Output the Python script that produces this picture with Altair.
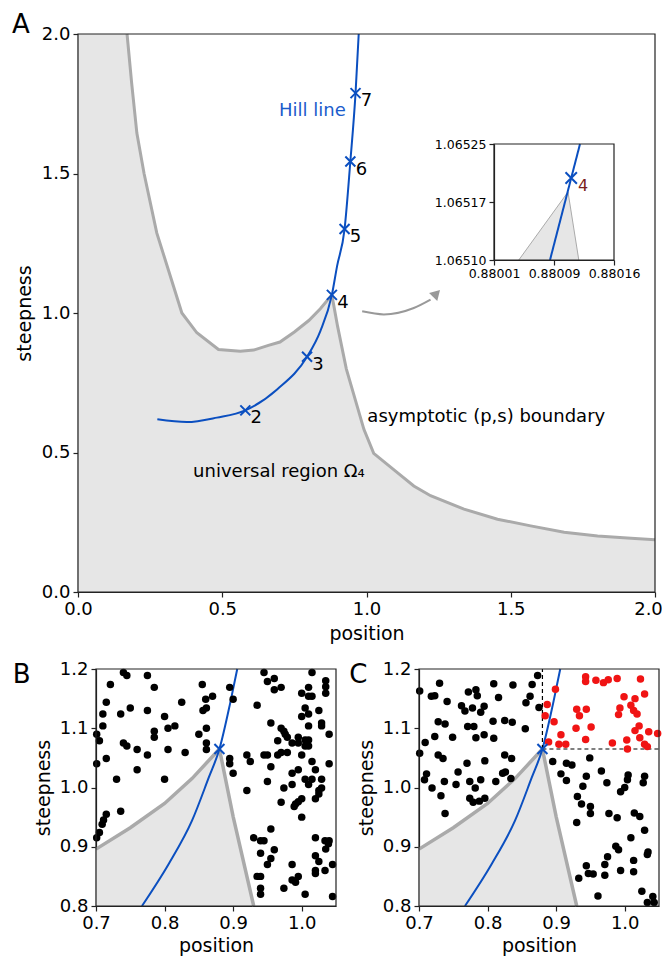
import altair as alt
import pandas as pd

# ---------------- data ----------------
# Panel A (position, steepness)
A_XDOM = [0.0, 2.0]
A_YDOM = [0.0, 2.0]
A_TICKS = [0.0, 0.5, 1.0, 1.5, 2.0]
A_BOUND_X = [0.170, 0.186, 0.204, 0.229, 0.273, 0.331, 0.360, 0.412, 0.487, 0.5625,
             0.609, 0.660, 0.700, 0.750, 0.800, 0.840, 0.880, 0.900, 0.930, 0.991,
             1.025, 1.107, 1.164, 1.222, 1.338, 1.454, 1.569, 1.685, 1.801, 1.917, 2.000]
A_BOUND_Y = [2.000, 1.824, 1.645, 1.500, 1.287, 1.096, 1.000, 0.929, 0.869, 0.863,
             0.867, 0.884, 0.896, 0.932, 0.973, 1.015, 1.065, 0.951, 0.800, 0.583,
             0.497, 0.428, 0.380, 0.345, 0.297, 0.261, 0.237, 0.214, 0.201, 0.193, 0.187]
A_HILL_X = [0.275, 0.377, 0.4815, 0.580, 0.690, 0.794, 0.840, 0.880, 0.898, 0.924, 0.944, 0.962, 0.973]
A_HILL_Y = [0.619, 0.609, 0.625, 0.651, 0.726, 0.843, 0.935, 1.065, 1.168, 1.301, 1.543, 1.788, 2.000]
HILL_N = ["2", "3", "4", "5", "6", "7"]
HILL_PX = [0.580, 0.794, 0.880, 0.924, 0.944, 0.962]
HILL_PY = [0.651, 0.843, 1.065, 1.301, 1.543, 1.788]
ARROW_X = [0.985, 1.060, 1.164, 1.222]
ARROW_Y = [1.006, 0.995, 1.018, 1.048]
ARROW_HEAD = [1.243, 1.070]
A_TEXT = ["Hill line", "universal region Ω₄", "asymptotic (p,s) boundary"]
A_TEXT_X = [0.8125, 0.399, 1.003]
A_TEXT_Y = [1.724, 0.429, 0.626]

# Inset of panel A
IN_XTICKS = [0.880012, 0.880087, 0.880162]
IN_YTICKS = [1.065098, 1.065173, 1.065248]
IN_TRI_X = [0.880043, 0.8801045, 0.880118]
IN_TRI_Y = [1.065098, 1.065186, 1.065098]
IN_HILL_X = [0.880082, 0.8801195]
IN_HILL_Y = [1.065098, 1.065248]
IN_PT = [0.8801085, 1.065204]

# Panels B and C
BC_XDOM = [0.7, 1.05]
BC_YDOM = [0.8, 1.2]
BC_XTICKS = [0.7, 0.8, 0.9, 1.0]
BC_YTICKS = [0.8, 0.9, 1.0, 1.1, 1.2]
BC_BOUND_X = [0.700, 0.750, 0.800, 0.840, 0.880, 0.900, 0.930]
BC_BOUND_Y = [0.896, 0.932, 0.973, 1.015, 1.065, 0.951, 0.800]
BC_HILL_X = [0.767, 0.806, 0.840, 0.8645, 0.880, 0.8956, 0.906]
BC_HILL_Y = [0.800, 0.871, 0.944, 1.017, 1.065, 1.142, 1.200]
BC_PT = [0.880, 1.065]
C_THRESH = [0.880, 1.065]

B_X = [0.740, 0.745, 0.775, 0.721, 0.785, 0.855, 0.870, 0.860, 0.715, 0.825,
       0.750, 0.775, 0.856, 0.861, 0.710, 0.736, 0.800, 0.710, 0.815, 0.805,
       0.785, 0.785, 0.861, 0.850, 0.701, 0.705, 0.740, 0.745, 0.760, 0.805,
       0.775, 0.830, 0.861, 0.861, 0.715, 0.701, 0.760, 0.730, 0.800, 0.736,
       0.715, 0.711, 0.709, 0.705, 0.701,
       0.945, 1.015, 0.950, 0.960, 1.035, 0.895, 0.960, 0.970, 1.010, 1.035,
       1.000, 1.010, 1.015, 1.035, 0.900, 0.935, 1.005, 1.025, 1.010, 1.000,
       0.955, 1.029, 1.029, 1.010, 0.970, 0.974, 0.976, 1.040, 0.979, 0.965,
       0.986, 0.995, 0.995, 1.005, 1.010, 1.005, 1.010, 0.920, 0.945, 0.950,
       0.965, 0.970, 0.979, 1.000, 0.895, 0.925, 1.015, 0.895, 0.955, 1.040,
       0.995, 1.020, 0.986, 0.900, 1.005, 1.015, 1.029, 0.950, 0.986, 1.010,
       0.974, 1.029, 1.025, 0.920, 1.025, 1.000, 0.995, 0.970, 0.991, 0.989,
       1.020, 1.000, 0.955, 0.930, 0.940, 0.945, 1.020, 1.034, 1.040, 1.039,
       1.035, 0.960, 0.940, 1.020, 0.955, 1.025, 0.950, 0.986, 1.045, 1.020,
       1.020, 1.034, 0.935, 0.940, 0.995, 0.986, 0.991, 0.940, 0.974, 0.940,
       1.005, 1.045]
B_Y = [1.194, 1.189, 1.189, 1.174, 1.169, 1.174, 1.154, 1.149, 1.144, 1.144,
       1.134, 1.130, 1.130, 1.134, 1.124, 1.124, 1.120, 1.104, 1.104, 1.100,
       1.095, 1.085, 1.100, 1.090, 1.090, 1.079, 1.075, 1.070, 1.064, 1.064,
       1.055, 1.059, 1.075, 1.064, 1.049, 1.040, 1.030, 1.014, 1.014, 0.960,
       0.955, 0.945, 0.938, 0.924, 0.915,
       1.194, 1.194, 1.179, 1.184, 1.180, 1.169, 1.165, 1.169, 1.169, 1.170,
       1.159, 1.154, 1.154, 1.159, 1.149, 1.139, 1.134, 1.130, 1.124, 1.120,
       1.109, 1.109, 1.104, 1.104, 1.100, 1.095, 1.090, 1.090, 1.085, 1.079,
       1.075, 1.085, 1.075, 1.080, 1.080, 1.070, 1.070, 1.055, 1.055, 1.055,
       1.055, 1.059, 1.059, 1.055, 1.049, 1.044, 1.044, 1.040, 1.035, 1.040,
       1.030, 1.030, 1.024, 1.024, 1.014, 1.014, 1.014, 1.010, 1.005, 1.005,
       0.999, 0.999, 0.995, 0.995, 0.989, 0.981, 0.976, 0.975, 0.972, 0.968,
       0.981, 0.950, 0.930, 0.915, 0.910, 0.910, 0.915, 0.910, 0.910, 0.905,
       0.896, 0.895, 0.889, 0.885, 0.880, 0.875, 0.870, 0.870, 0.870, 0.860,
       0.855, 0.860, 0.850, 0.850, 0.850, 0.844, 0.840, 0.830, 0.830, 0.820,
       0.820, 0.816]

C_BLACK_X = [0.701, 0.730, 0.718, 0.723, 0.741, 0.772, 0.783, 0.785, 0.809, 0.837,
             0.816, 0.865, 0.862, 0.873, 0.856, 0.875, 0.762, 0.767, 0.778, 0.790,
             0.795, 0.728, 0.738, 0.771, 0.780, 0.808, 0.825, 0.836, 0.855, 0.723,
             0.749, 0.783, 0.795, 0.809, 0.709, 0.701, 0.728, 0.735, 0.825, 0.835,
             0.770, 0.796, 0.757, 0.711, 0.708, 0.737, 0.754, 0.774, 0.790, 0.812,
             0.822, 0.826, 0.834, 0.782, 0.719, 0.732, 0.774, 0.779, 0.788, 0.796,
             0.738,
             0.895, 0.915, 0.923, 0.949, 0.966, 0.907, 0.915, 0.944, 1.005, 1.029,
             1.004, 0.974, 1.027, 0.939, 1.000, 0.994, 0.931, 0.937, 0.950, 0.950,
             0.977, 0.989, 1.014, 1.022, 0.930, 1.029, 1.009, 0.987, 0.991, 1.034,
             1.033, 0.975, 0.944, 0.971, 1.013, 0.994, 1.013, 0.947, 0.954, 0.971,
             0.933, 1.025, 0.961, 1.041, 1.033, 1.043]
C_BLACK_Y = [1.163, 1.176, 1.154, 1.155, 1.145, 1.161, 1.165, 1.155, 1.175, 1.173,
             1.152, 1.174, 1.154, 1.189, 1.143, 1.135, 1.138, 1.129, 1.134, 1.127,
             1.137, 1.111, 1.107, 1.103, 1.103, 1.112, 1.113, 1.110, 1.099, 1.086,
             1.085, 1.084, 1.089, 1.083, 1.076, 1.058, 1.055, 1.049, 1.055, 1.049,
             1.041, 1.045, 1.026, 1.023, 1.013, 1.010, 1.005, 1.010, 1.013, 1.010,
             1.024, 1.026, 1.015, 0.999, 0.999, 0.986, 0.982, 0.975, 0.977, 0.982,
             0.956,
             1.044, 1.041, 1.038, 1.050, 1.028, 1.023, 1.012, 1.019, 1.021, 1.019,
             1.013, 1.008, 1.008, 1.002, 1.000, 0.993, 0.985, 0.972, 0.968, 0.956,
             0.956, 0.949, 0.957, 0.951, 0.941, 0.928, 0.915, 0.901, 0.895, 0.891,
             0.887, 0.883, 0.868, 0.870, 0.877, 0.860, 0.858, 0.855, 0.854, 0.852,
             0.847, 0.825, 0.817, 0.816, 0.806, 0.806]
C_RED_X = [0.943, 0.943, 0.958, 0.969, 0.976, 0.989, 1.023, 0.899, 0.999, 1.015,
           1.029, 0.887, 0.930, 0.944, 0.993, 1.009, 1.013, 1.018, 0.884, 0.934,
           0.991, 0.897, 0.951, 0.929, 1.021, 1.015, 1.035, 1.048, 0.907, 1.003,
           1.022, 0.943, 0.889, 0.904, 0.914, 0.982, 1.029, 1.033, 1.004]
C_RED_Y = [1.187, 1.179, 1.181, 1.177, 1.182, 1.184, 1.183, 1.166, 1.153, 1.150,
           1.158, 1.140, 1.132, 1.132, 1.134, 1.139, 1.130, 1.124, 1.121, 1.121,
           1.123, 1.111, 1.102, 1.100, 1.104, 1.096, 1.094, 1.091, 1.089, 1.080,
           1.084, 1.081, 1.077, 1.073, 1.073, 1.075, 1.073, 1.069, 1.065]

PANEL_LETTERS = ["A", "B", "C"]

# ---------------- styling / layout ----------------
FONT = "DejaVu Sans"
W, H = 654, 949
BLUE = "#0b4fc0"
BLUE_TXT = "#1a5ccc"
GLINE = "#aaaaaa"
GFILL = "#e6e6e6"
AXC = "#222222"
XSHAPE = "M -1 -1 L 1 1 M 1 -1 L -1 1"

RA_X, RA_Y = [70, 647], [584, 26]
RI_X, RI_Y = [486, 606], [252, 136]
RB_X, RB_Y = [88, 328], [898, 661]
RC_X, RC_Y = [411, 651], [898, 661]


def sc(dom, rng):
    return alt.Scale(domain=dom, range=rng, nice=False, zero=False)


def axis(orient, offset, values, fmt, title, lsize=18, tsize=19, tpad=5, lpad=3, **extra):
    return alt.Axis(orient=orient, offset=offset, values=values, format=fmt, title=title,
                    grid=False, labelFont=FONT, labelFontSize=lsize, labelColor="black",
                    titleFont=FONT, titleFontSize=tsize, titleFontWeight="normal",
                    titleColor="black", tickColor=AXC, tickSize=5, tickWidth=1.2,
                    domainColor=AXC, domainWidth=1.2, labelFlush=False,
                    labelOverlap=False, labelPadding=lpad, titlePadding=tpad, **extra)


def enc(chart, xs, ys, xax=None, yax=None, **kw):
    xa = {"axis": xax} if xax is not None else {"axis": None}
    ya = {"axis": yax} if yax is not None else {"axis": None}
    return chart.encode(x=alt.X("x:Q", scale=xs, **xa), y=alt.Y("y:Q", scale=ys, **ya), **kw)


def frame(df, xs, ys):
    return alt.Chart(df).mark_rect(fillOpacity=0, stroke=AXC, strokeWidth=1.2).encode(
        x=alt.X("x:Q", scale=xs, axis=None), x2="x2:Q",
        y=alt.Y("y:Q", scale=ys, axis=None), y2="y2:Q")


# ---------------- panel A ----------------
axs, ays = sc(A_XDOM, RA_X), sc(A_YDOM, RA_Y)
dfA_area = pd.DataFrame({"x": [A_XDOM[0]] + A_BOUND_X, "y": [A_YDOM[1]] + A_BOUND_Y, "b": A_YDOM[0]})
dfA_bound = pd.DataFrame({"x": A_BOUND_X, "y": A_BOUND_Y})
dfA_hill = pd.DataFrame({"x": A_HILL_X, "y": A_HILL_Y})
dfA_pts = pd.DataFrame({"x": HILL_PX, "y": HILL_PY, "n": HILL_N})
dfA_arrow = pd.DataFrame({"x": ARROW_X, "y": ARROW_Y})
dfA_head = pd.DataFrame({"x": [ARROW_HEAD[0]], "y": [ARROW_HEAD[1]]})
dfA_text = pd.DataFrame({"x": A_TEXT_X, "y": A_TEXT_Y, "t": A_TEXT})
dfA_frame = pd.DataFrame({"x": [A_XDOM[0]], "x2": [A_XDOM[1]], "y": [A_YDOM[0]], "y2": [A_YDOM[1]]})
dfA_letter = pd.DataFrame({"x": [-0.198], "y": [2.034], "t": [PANEL_LETTERS[0]]})

# keep the last x label ("2.0") inside the page edge
last_label_shift = {"condition": {"test": f"datum.value >= {A_XDOM[1]}", "value": -7}, "value": 0}

A_layers = [
    enc(alt.Chart(dfA_area).mark_area(color=GFILL), axs, ays,
        xax=axis("bottom", RA_Y[0] - H, A_TICKS, ".1f", "position", tpad=6,
                 labelOffset=last_label_shift),
        yax=axis("left", -RA_X[0], A_TICKS, ".1f", "steepness", tpad=7),
        y2="b:Q"),
    enc(alt.Chart(dfA_bound).mark_line(color=GLINE, strokeWidth=3), axs, ays),
    enc(alt.Chart(dfA_hill).mark_line(color=BLUE, strokeWidth=2, interpolate="monotone"), axs, ays),
    enc(alt.Chart(dfA_arrow).mark_line(color="#999999", strokeWidth=2, interpolate="monotone"), axs, ays),
    enc(alt.Chart(dfA_head).mark_point(shape="triangle-up", filled=True, size=130, angle=44,
                                       color="#999999", opacity=1), axs, ays),
    enc(alt.Chart(dfA_pts).mark_point(shape=XSHAPE, filled=False, size=100, strokeWidth=2,
                                      color=BLUE, opacity=1), axs, ays),
    enc(alt.Chart(dfA_pts).mark_text(font=FONT, fontSize=18, dx=11, dy=8, align="center",
                                     baseline="middle", color="black"), axs, ays, text="n:N"),
    enc(alt.Chart(dfA_text.iloc[[0]]).mark_text(font=FONT, fontSize=18, align="center",
                                                baseline="middle", color=BLUE_TXT), axs, ays, text="t:N"),
    enc(alt.Chart(dfA_text.iloc[[1, 2]]).mark_text(font=FONT, fontSize=18, align="left",
                                                   baseline="middle", color="black"), axs, ays, text="t:N"),
    enc(alt.Chart(dfA_letter).mark_text(font=FONT, fontSize=26, align="center",
                                        baseline="middle", color="black"), axs, ays, text="t:N"),
    frame(dfA_frame, axs, ays),
]

# ---------------- inset ----------------
ixs, iys = sc([IN_XTICKS[0], IN_XTICKS[-1]], RI_X), sc([IN_YTICKS[0], IN_YTICKS[-1]], RI_Y)
dfI_tri = pd.DataFrame({"x": IN_TRI_X, "y": IN_TRI_Y, "b": IN_YTICKS[0]})
dfI_hill = pd.DataFrame({"x": IN_HILL_X, "y": IN_HILL_Y})
dfI_pt = pd.DataFrame({"x": [IN_PT[0]], "y": [IN_PT[1]], "n": [HILL_N[2]]})
dfI_frame = pd.DataFrame({"x": [IN_XTICKS[0]], "x2": [IN_XTICKS[-1]],
                          "y": [IN_YTICKS[0]], "y2": [IN_YTICKS[-1]]})
I_layers = [
    enc(alt.Chart(dfI_tri).mark_area(color=GFILL), ixs, iys,
        xax=axis("bottom", RI_Y[0] - H, IN_XTICKS, ".5f", "", lsize=12.5, lpad=2),
        yax=axis("left", -RI_X[0], IN_YTICKS, ".5f", "", lsize=12.5, lpad=3),
        y2="b:Q"),
    enc(alt.Chart(dfI_tri).mark_line(color=GLINE, strokeWidth=1), ixs, iys),
    enc(alt.Chart(dfI_hill).mark_line(color=BLUE, strokeWidth=2), ixs, iys),
    enc(alt.Chart(dfI_pt).mark_point(shape=XSHAPE, filled=False, size=130, strokeWidth=2,
                                     color=BLUE, opacity=1), ixs, iys),
    enc(alt.Chart(dfI_pt).mark_text(font=FONT, fontSize=16, dx=12, dy=8, align="center",
                                    baseline="middle", color="#7a1f1f"), ixs, iys, text="n:N"),
    frame(dfI_frame, ixs, iys),
]


# ---------------- panels B and C ----------------
def small_panel(rx, ry, letter, letter_x, black_x, black_y, red_x=None, red_y=None):
    xs, ys = sc(BC_XDOM, rx), sc(BC_YDOM, ry)
    df_area = pd.DataFrame({"x": BC_BOUND_X, "y": BC_BOUND_Y, "b": BC_YDOM[0]})
    df_bound = pd.DataFrame({"x": BC_BOUND_X, "y": BC_BOUND_Y})
    df_hill = pd.DataFrame({"x": BC_HILL_X, "y": BC_HILL_Y})
    df_black = pd.DataFrame({"x": black_x, "y": black_y})
    df_pt = pd.DataFrame({"x": [BC_PT[0]], "y": [BC_PT[1]]})
    df_frame = pd.DataFrame({"x": [BC_XDOM[0]], "x2": [BC_XDOM[1]], "y": [BC_YDOM[0]], "y2": [BC_YDOM[1]]})
    df_letter = pd.DataFrame({"x": [letter_x], "y": [1.190], "t": [letter]})
    layers = [
        enc(alt.Chart(df_area).mark_area(color=GFILL), xs, ys,
            xax=axis("bottom", ry[0] - H, BC_XTICKS, ".1f", "position", tpad=4),
            yax=axis("left", -rx[0], BC_YTICKS, ".1f", "steepness", tpad=6),
            y2="b:Q"),
        enc(alt.Chart(df_bound).mark_line(color=GLINE, strokeWidth=3.5), xs, ys),
        enc(alt.Chart(df_hill).mark_line(color=BLUE, strokeWidth=2, interpolate="monotone"), xs, ys),
    ]
    if red_x is not None:
        df_v = pd.DataFrame({"x": [C_THRESH[0]], "y": [C_THRESH[1]], "y2": [BC_YDOM[1]]})
        df_h = pd.DataFrame({"x": [C_THRESH[0]], "x2": [BC_XDOM[1]], "y": [C_THRESH[1]]})
        layers.append(alt.Chart(df_v).mark_rule(color="black", strokeWidth=1.2, strokeDash=[4, 3]).encode(
            x=alt.X("x:Q", scale=xs, axis=None), y=alt.Y("y:Q", scale=ys, axis=None), y2="y2:Q"))
        layers.append(alt.Chart(df_h).mark_rule(color="black", strokeWidth=1.2, strokeDash=[4, 3]).encode(
            x=alt.X("x:Q", scale=xs, axis=None), x2="x2:Q", y=alt.Y("y:Q", scale=ys, axis=None)))
    layers.append(enc(alt.Chart(df_black).mark_circle(color="black", size=56, opacity=1), xs, ys))
    if red_x is not None:
        df_red = pd.DataFrame({"x": red_x, "y": red_y})
        layers.append(enc(alt.Chart(df_red).mark_circle(color="#f01414", size=56, opacity=1), xs, ys))
    layers += [
        enc(alt.Chart(df_pt).mark_point(shape=XSHAPE, filled=False, size=100, strokeWidth=2,
                                        color=BLUE, opacity=1), xs, ys),
        enc(alt.Chart(df_letter).mark_text(font=FONT, fontSize=26, align="center",
                                           baseline="middle", color="black"), xs, ys, text="t:N"),
        frame(df_frame, xs, ys),
    ]
    return layers


B_layers = small_panel(RB_X, RB_Y, PANEL_LETTERS[1], 0.5915, B_X, B_Y)
C_layers = small_panel(RC_X, RC_Y, PANEL_LETTERS[2], 0.6114, C_BLACK_X, C_BLACK_Y, C_RED_X, C_RED_Y)

chart = alt.layer(*(A_layers + I_layers + B_layers + C_layers)).resolve_scale(
    x="independent", y="independent"
).resolve_axis(
    x="independent", y="independent"
).properties(
    width=W, height=H, padding=0, autosize=alt.AutoSizeParams(type="none"), background="white"
).configure_view(stroke="transparent")

chart.save("out.html", embed_options={"renderer": "svg", "actions": False})
